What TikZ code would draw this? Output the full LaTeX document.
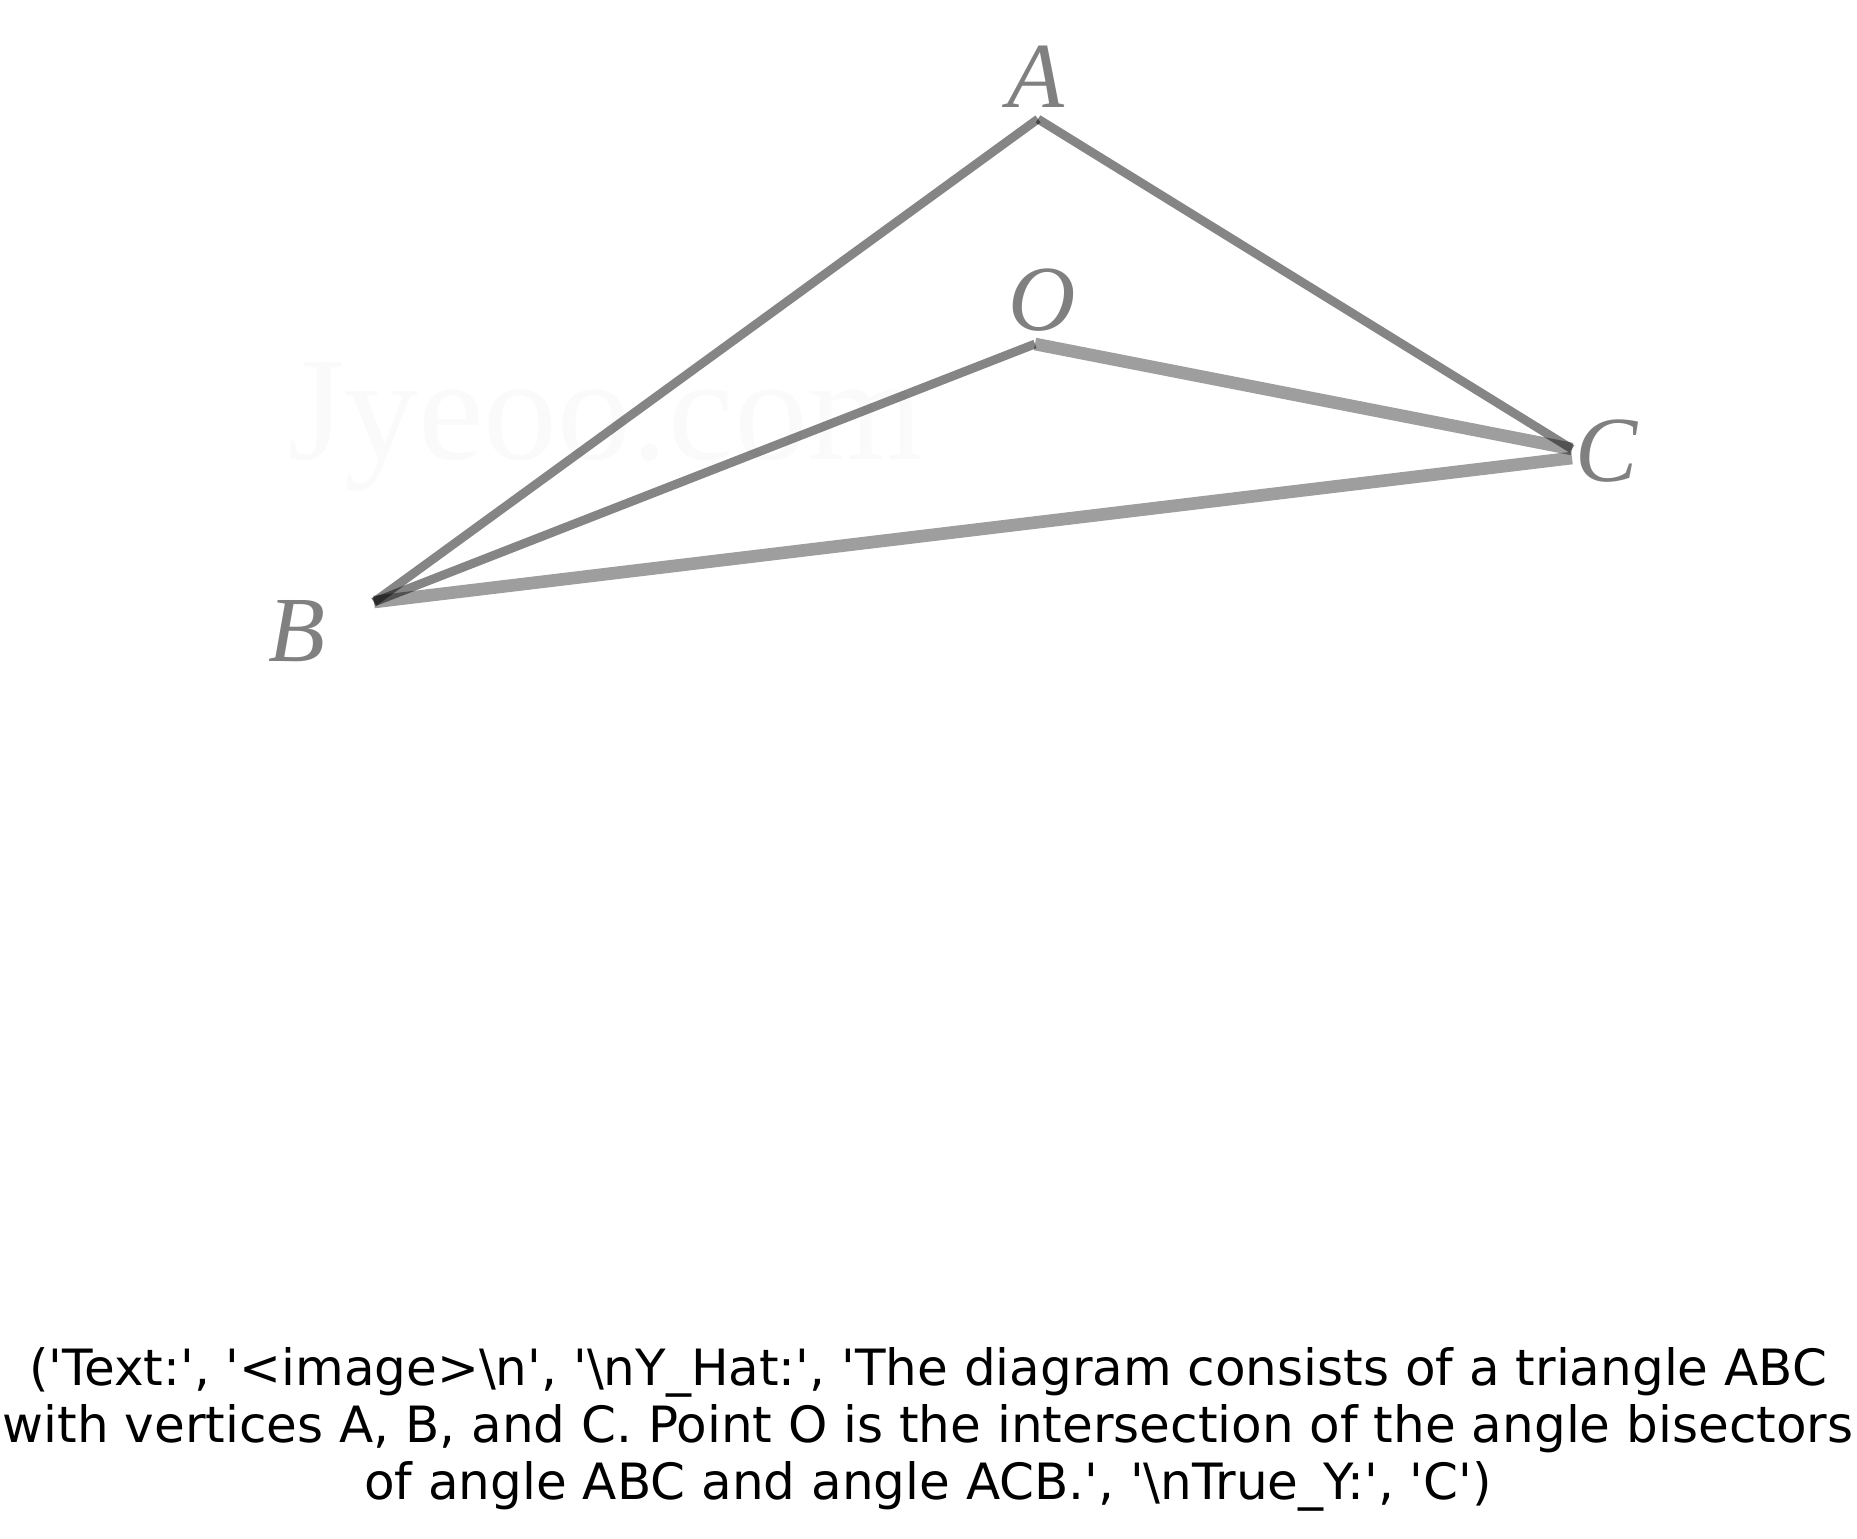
\documentclass[tikz,border=0pt]{standalone}
\usepackage{fontspec}
\newfontfamily\capfont{DejaVu Sans}
\newfontfamily\ptfont{Liberation Serif}
\tikzset{
edgeline/.style={line width=2.5pt,black,opacity=.48},
softline/.style={line width=3.6pt,black,opacity=.38},
ptlabel/.style={font=\ptfont\itshape\fontsize{26.5}{26.5}\selectfont,text=black!50,inner sep=0pt}
}
\begin{document}
\begin{tikzpicture}[x=0.01cm,y=-0.01cm]
\useasboundingbox (0,0) rectangle (1857,1539);
% faint mark behind the triangle
\node[font=\ptfont\fontsize{42}{42}\selectfont,text=black!2,inner sep=0pt] (mark) at (605,427) {Jyeoo.com};
\coordinate (A) at (1038,119);
\coordinate (O) at (1035,344);
\coordinate (C) at (1572,449);
\coordinate (Cb) at (1572,458);
\coordinate (B) at (374,602);
\draw[edgeline] (B) -- (A);
\draw[edgeline] (A) -- (C);
\draw[edgeline] (B) -- (O);
\draw[softline] (O) -- (C);
\draw[softline] (B) -- (Cb);
% labels of the vertices
\node[ptlabel] (labA) at (1036,77) {A};
\node[ptlabel] (labO) at (1042,300) {O};
\node[ptlabel] (labC) at (1607,451) {C};
\node[ptlabel] (labB) at (297,631) {B};
\node[font=\capfont\fontsize{14.22}{16.2}\selectfont,align=center,inner sep=0pt] (cap) at (928,1429)
{('Text:', '<image>\textbackslash n', '\textbackslash nY\_Hat:', 'The diagram consists of a triangle ABC\\
with vertices A, B, and C. Point O is the intersection of the angle bisectors\\
of angle ABC and angle ACB.', '\textbackslash nTrue\_Y:', 'C')};
\end{tikzpicture}
\end{document}
